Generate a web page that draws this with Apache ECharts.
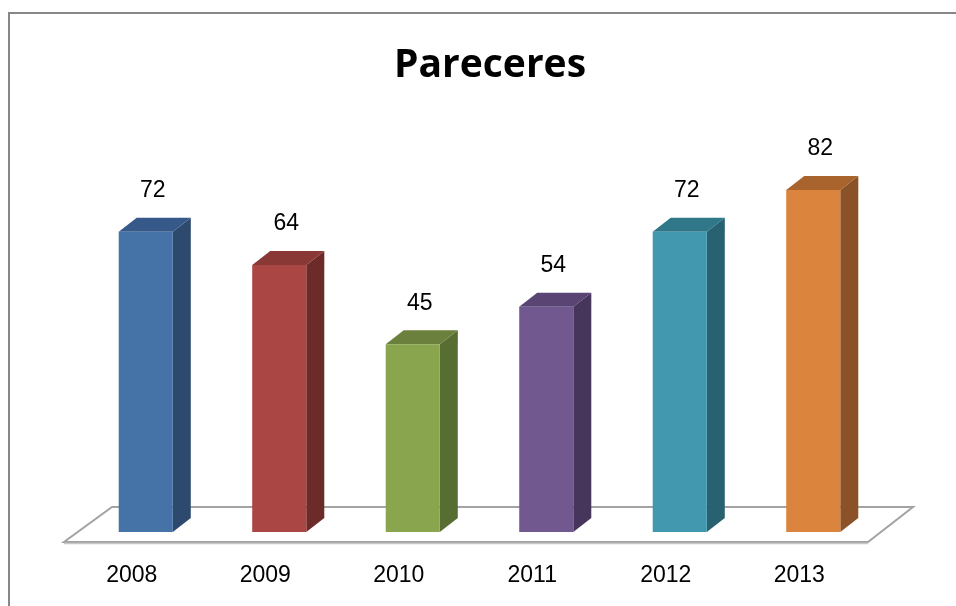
<!DOCTYPE html>
<html><head><meta charset="utf-8">
<script src="https://cdn.jsdelivr.net/npm/echarts@6/dist/echarts.min.js"></script>
<style>html,body{margin:0;padding:0;background:#fff}#c{width:956px;height:606px}</style>
</head><body><div id="c"></div>
<script>
var titleText = 'Pareceres';
var categories = ['2008', '2009', '2010', '2011', '2012', '2013'];
var values = [72, 64, 45, 54, 72, 82];
var frontColors = ['#4572A7', '#AA4643', '#89A54E', '#71588F', '#4198AF', '#DB843D'];
var topColors   = ['#36598A', '#8A3835', '#6B803C', '#594473', '#307789', '#A9632C'];
var sideColors  = ['#2D4A6E', '#6C2B29', '#586D32', '#46365C', '#28616F', '#8A5226'];

var chart = echarts.init(document.getElementById('c'));
var DX = 18, DY = -14;

function renderItem(params, api) {
  var i = params.dataIndex;
  var v = api.value(1);
  var top = api.coord([i, v]);
  var base = api.coord([i, 0]);
  var w = api.size([1, 0])[0] * 0.405;
  var x0 = top[0] - w / 2, x1 = top[0] + w / 2;
  var yT = top[1], yB = base[1];
  var children = [];
  if (i === 0) {
    var cs = params.coordSys;
    var fl = cs.x - 15, fr = cs.x + cs.width - 12, fy = cs.y + cs.height + 10;
    var bl = cs.x + 33, br = cs.x + cs.width + 33, by = cs.y + cs.height - 25;
    children.push({
      type: 'polygon', z2: 0,
      shape: { points: [[fl, fy], [fr, fy], [br, by], [bl, by]] },
      style: { fill: '#fff', stroke: '#a3a3a3', lineWidth: 2 }
    });
    children.push({
      type: 'line', z2: 1,
      shape: { x1: fl, y1: fy + 1.5, x2: fr, y2: fy + 1.5 },
      style: { stroke: '#c8c8c8', lineWidth: 1.5 }
    });
  }
  children.push({
    type: 'polygon', z2: 5,
    shape: { points: [[x1, yT], [x1 + DX, yT + DY], [x1 + DX, yB + DY], [x1, yB]] },
    style: { fill: sideColors[i] }
  });
  children.push({
    type: 'polygon', z2: 5,
    shape: { points: [[x0, yT], [x0 + DX, yT + DY], [x1 + DX, yT + DY], [x1, yT]] },
    style: { fill: topColors[i] }
  });
  children.push({
    type: 'rect', z2: 6,
    shape: { x: x0, y: yT, width: w, height: yB - yT },
    style: { fill: frontColors[i] }
  });
  children.push({
    type: 'text', z2: 7,
    style: {
      text: String(v), x: top[0] + 7, y: yT - 41,
      align: 'center', verticalAlign: 'middle',
      font: '23px "Liberation Sans", Arial, sans-serif', fill: '#000'
    }
  });
  return { type: 'group', children: children };
}

chart.setOption({
  animation: false,
  backgroundColor: '#fff',
  graphic: [{
    type: 'polyline', z: 100,
    shape: { points: [[9, 620], [9, 13], [980, 13]] },
    style: { stroke: '#878787', lineWidth: 2, fill: null }
  }],
  title: {
    text: titleText, left: 485, top: 41, textAlign: 'center',
    textStyle: { fontFamily: '"Open Sans", sans-serif', fontWeight: 'bold', fontSize: 39, color: '#000' }
  },
  grid: { left: 79, right: 76, top: 115, bottom: 74 },
  xAxis: {
    type: 'category', data: categories,
    axisLine: { show: false }, axisTick: { show: false },
    axisLabel: {
      margin: 32, fontSize: 23, lineHeight: 23, color: '#000',
      fontFamily: '"Liberation Sans", Arial, sans-serif',
      padding: [0, 28, 0, 0]
    }
  },
  yAxis: { type: 'value', min: 0, max: 100, show: false, splitLine: { show: false } },
  series: [{
    type: 'custom', renderItem: renderItem,
    data: values.map(function (v, i) { return [i, v]; }),
    encode: { x: 0, y: 1 }, clip: false
  }]
});
</script></body></html>
